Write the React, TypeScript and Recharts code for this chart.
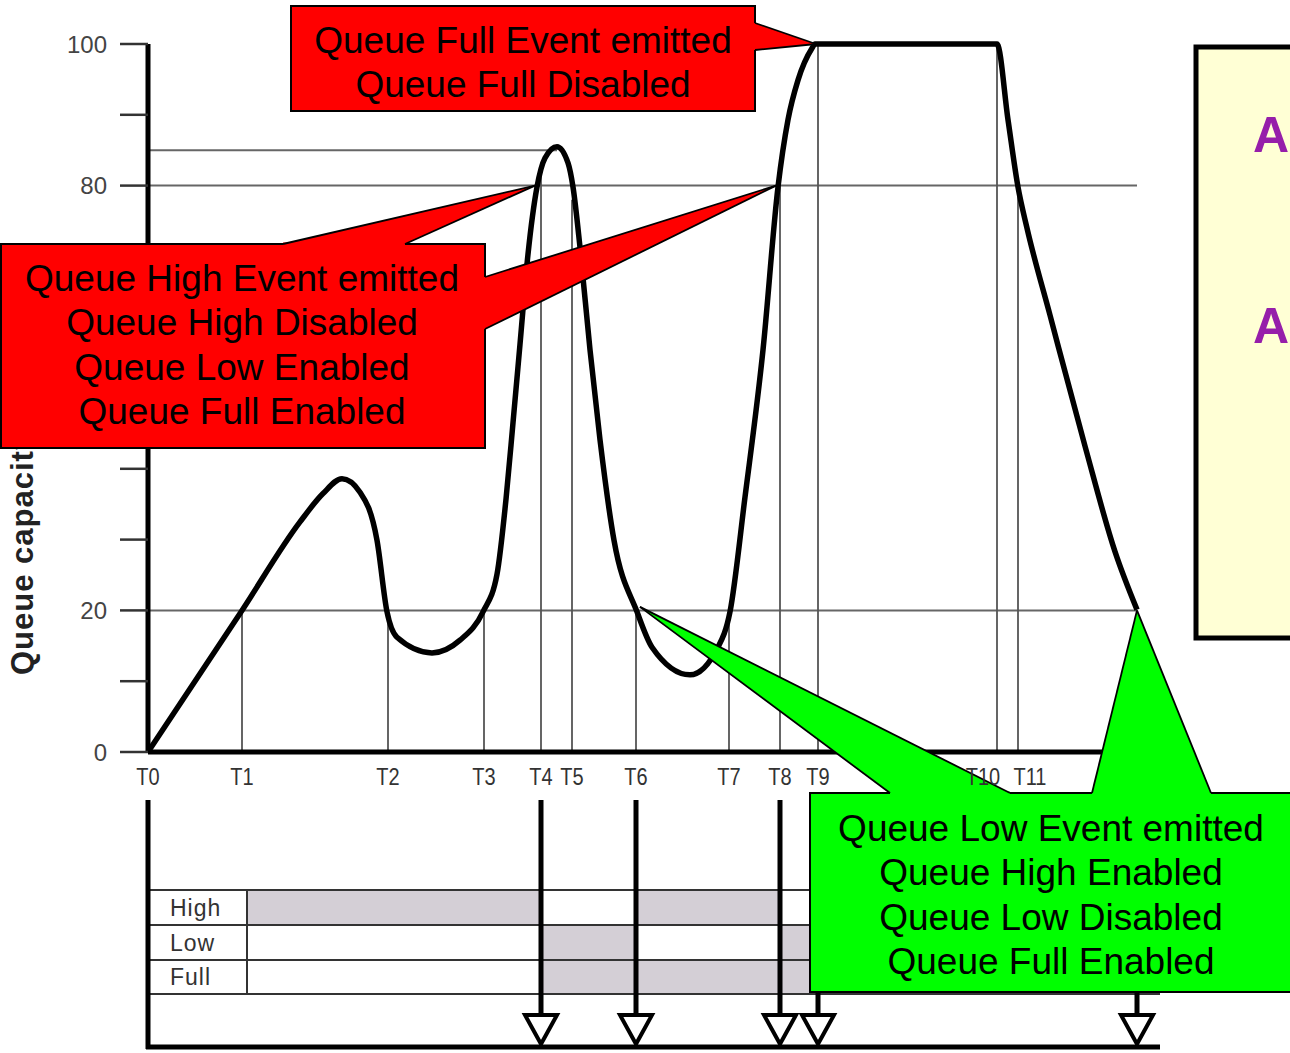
import React from 'react';
import { ComposedChart, Line, XAxis, YAxis, ReferenceLine, ReferenceArea, ReferenceDot } from 'recharts';

const FONT = '"Liberation Sans", Arial, Helvetica, sans-serif';

// time marks on the x axis
const T_LABELS = ['T0', 'T1', 'T2', 'T3', 'T4', 'T5', 'T6', 'T7', 'T8', 'T9', 'T10', 'T11'];
const T_TIMES = [0, 94, 240, 336, 393, 424, 488, 581, 632, 670, 849, 870];
const T_LINE_TOPS = [0, 20, 20, 20, 83, 78, 20, 20, 80, 100, 100, 80];

// queue depth curve (% of capacity)
const CURVE_T = [0, 94, 152, 175, 194, 212, 229, 239, 249, 284, 312, 335, 349, 358, 365, 372, 380, 389, 397, 409, 420, 425, 432, 442, 452, 466, 489, 504, 542, 570, 582, 597, 615, 630, 640, 650, 664, 667, 849, 860, 870, 879, 902, 937, 967, 989];
const CURVE_Q = [0, 20, 32.5, 36.5, 38.6, 36.7, 29.9, 19.8, 16.2, 14.0, 15.8, 19.8, 25.1, 35.7, 46.5, 57.6, 70.3, 79.8, 83.9, 85.5, 83.2, 79.8, 71.3, 56.8, 44.1, 29.9, 19.8, 14.8, 10.9, 14.8, 19.8, 36.0, 56.8, 79.8, 89.3, 94.9, 99.4, 100, 100, 89.3, 79.8, 74.0, 61.7, 43.2, 28.3, 20.1];

const Y_TICKS = [0, 10, 20, 30, 40, 50, 60, 70, 80, 90, 100];
const Y_LABELED = [0, 20, 80, 100];

// threshold guide lines
const GUIDE_LEVELS = [85, 80, 20];
const GUIDE_ENDS = [409, 989, 989];

// moments where an event fires (arrows into the state table)
const EVENT_TIMES = [393, 488, 632, 670, 989];

// enabled periods per threshold
const ROW_NAMES = ['High', 'Low', 'Full'];
const HIGH_ON = [[0, 393], [488, 632]];
const LOW_ON = [[393, 488], [632, 990]];
const FULL_ON = [[393, 670]];
const ROW_PERIODS = [HIGH_ON, LOW_ON, FULL_ON];

// callouts
const FULL_TEXT = ['Queue Full Event emitted', 'Queue Full Disabled'];
const HIGH_TEXT = ['Queue High Event emitted', 'Queue High Disabled', 'Queue Low Enabled', 'Queue Full Enabled'];
const LOW_TEXT = ['Queue Low Event emitted', 'Queue High Enabled', 'Queue Low Disabled', 'Queue Full Enabled'];
const FULL_TIP = { t: 670, q: 100 };
const HIGH_TIPS = [{ t: 387, q: 80 }, { t: 628, q: 80 }];
const LOW_TIPS = [{ t: 492, q: 20.5 }, { t: 989, q: 20 }];

const curveData = CURVE_T.map((t, i) => ({ t, q: CURVE_Q[i] }));

// pixel layout of the lower state table
const TABLE = { left: 148, colEdge: 247, right: 1160, rows: [890, 925, 960, 994], frameTop: 800, bottom: 1047 };
const GAP = 44.3;

type Pt = [number, number];

function Pointer({ tip, base, fill }: { tip: Pt; base: [Pt, Pt]; fill: string }) {
  const [b1, b2] = base;
  return (
    <g>
      <polygon points={`${b1[0]},${b1[1]} ${tip[0]},${tip[1]} ${b2[0]},${b2[1]}`} fill={fill} />
      <line x1={b1[0]} y1={b1[1]} x2={b2[0]} y2={b2[1]} stroke={fill} strokeWidth={3} />
      <line x1={b1[0]} y1={b1[1]} x2={tip[0]} y2={tip[1]} stroke="#000" strokeWidth={1.8} />
      <line x1={b2[0]} y1={b2[1]} x2={tip[0]} y2={tip[1]} stroke="#000" strokeWidth={1.8} />
    </g>
  );
}

function Box({ x, y, w, h, fill, lines, cx, firstY }: any) {
  return (
    <g>
      <rect x={x} y={y} width={w} height={h} fill={fill} stroke="#000" strokeWidth={2} />
      {lines.map((s: string, i: number) => (
        <text key={s + i} x={cx} y={firstY + i * GAP + 13} textAnchor="middle" fontSize={37} fontFamily={FONT} fill="#000">
          {s}
        </text>
      ))}
    </g>
  );
}

const XTick = ({ x, y, payload }: any) => {
  const i = T_TIMES.indexOf(payload.value);
  const label = T_LABELS[i];
  const shift = label === 'T10' ? -14 : label === 'T11' ? 12 : 0;
  return (
    <g transform={`translate(${x + shift},${y})`}>
      <text textAnchor="middle" y={21} transform="scale(1,1.2)" fontSize={20} fill="#333" fontFamily={FONT}>
        {label}
      </text>
    </g>
  );
};

const YTick = ({ x, y, payload }: any) => {
  if (!Y_LABELED.includes(payload.value)) return <g />;
  return (
    <text x={x - 1} y={y} dy="0.36em" textAnchor="end" fontSize={24} fill="#444" fontFamily={FONT}>
      {payload.value}
    </text>
  );
};

export default function App() {
  return (
    <div style={{ width: 1290, height: 1053, background: '#fff' }}>
      <style>{'body{margin:0}'}</style>
      <ComposedChart width={1290} height={1053} data={curveData} margin={{ top: 44, right: 152, bottom: 271, left: 88 }}>
        <XAxis
          dataKey="t"
          type="number"
          domain={[0, 990]}
          ticks={T_TIMES}
          interval={0}
          height={30}
          tickLine={false}
          tick={<XTick />}
          axisLine={{ stroke: '#000', strokeWidth: 5 }}
        />
        <YAxis
          type="number"
          domain={[0, 100]}
          ticks={Y_TICKS}
          interval={0}
          width={60}
          tickSize={28}
          tickMargin={12}
          tick={<YTick />}
          tickLine={{ stroke: '#333', strokeWidth: 2.5 }}
          axisLine={{ stroke: '#000', strokeWidth: 5 }}
        />
        {GUIDE_LEVELS.map((q, i) => (
          <ReferenceLine key={'g' + q} segment={[{ x: 0, y: q }, { x: GUIDE_ENDS[i], y: q }]} stroke="#666" strokeWidth={2} />
        ))}
        {T_TIMES.map((t, i) =>
          i === 0 ? null : (
            <ReferenceLine key={'v' + t} segment={[{ x: t, y: 0 }, { x: t, y: T_LINE_TOPS[i] }]} stroke="#555" strokeWidth={1.8} />
          )
        )}
        <Line type="monotone" dataKey="q" stroke="#000" strokeWidth={5.5} dot={false} isAnimationActive={false} />

        {ROW_PERIODS.map((periods, r) =>
          periods.map(([a, b]) => (
            <ReferenceArea
              key={`r${r}-${a}`}
              x1={a}
              x2={b}
              fill="#d4cfd6"
              shape={(p: any) => {
                const left = Math.max(p.x, TABLE.colEdge);
                return <rect x={left} y={TABLE.rows[r]} width={p.x + p.width - left} height={TABLE.rows[r + 1] - TABLE.rows[r]} fill="#d4cfd6" />;
              }}
            />
          ))
        )}

        {/* state table frame, axis title, side panel */}
        <ReferenceDot
          x={0}
          y={0}
          zIndex={1500}
          shape={(p: any) => (
            <g>
              {TABLE.rows.map((ry) => (
                <line key={ry} x1={p.cx} y1={ry} x2={TABLE.right} y2={ry} stroke="#333" strokeWidth={2} />
              ))}
              <line x1={TABLE.colEdge} y1={TABLE.rows[0]} x2={TABLE.colEdge} y2={TABLE.rows[3]} stroke="#333" strokeWidth={2} />
              {ROW_NAMES.map((n, i) => (
                <text key={n} x={170} y={(TABLE.rows[i] + TABLE.rows[i + 1]) / 2 + 8} fontSize={23} letterSpacing={1} fill="#333" fontFamily={FONT}>
                  {n}
                </text>
              ))}
              <line x1={p.cx} y1={TABLE.frameTop} x2={p.cx} y2={TABLE.bottom + 2} stroke="#000" strokeWidth={5} />
              <line x1={p.cx - 2} y1={TABLE.bottom} x2={TABLE.right} y2={TABLE.bottom} stroke="#000" strokeWidth={5} />
              <text x={33} y={675} transform="rotate(-90 33 675)" fontSize={31} fontWeight="bold" letterSpacing={1} fill="#222" fontFamily={FONT}>
                Queue capacity
              </text>
              <rect x={1196} y={47} width={130} height={591} fill="#ffffd5" stroke="#000" strokeWidth={5} />
              <text x={1253} y={152} fontSize={50} fontWeight="bold" fill="#961eaa" fontFamily={FONT}>A</text>
              <text x={1253} y={343} fontSize={50} fontWeight="bold" fill="#961eaa" fontFamily={FONT}>A</text>
            </g>
          )}
        />

        {EVENT_TIMES.map((t) => (
          <ReferenceDot
            key={'e' + t}
            x={t}
            y={0}
            zIndex={1500}
            shape={(p: any) => (
              <g>
                <line x1={p.cx} y1={TABLE.frameTop} x2={p.cx} y2={1014} stroke="#000" strokeWidth={5} />
                <polygon
                  points={`${p.cx - 16},1015 ${p.cx + 16},1015 ${p.cx},1044`}
                  fill="#fff"
                  stroke="#000"
                  strokeWidth={4}
                />
              </g>
            )}
          />
        ))}

        {/* Full callout */}
        <ReferenceDot
          x={FULL_TIP.t}
          y={FULL_TIP.q}
          zIndex={1600}
          shape={(p: any) => (
            <g>
              <Box x={291} y={6} w={464} h={105} fill="#ff0000" lines={FULL_TEXT} cx={523} firstY={40} />
              <Pointer tip={[p.cx - 2, p.cy]} base={[[755, 23], [755, 50]]} fill="#ff0000" />
            </g>
          )}
        />

        {/* High callout */}
        <ReferenceDot
          x={HIGH_TIPS[0].t}
          y={HIGH_TIPS[0].q}
          zIndex={1600}
          shape={(p: any) => (
            <g>
              <Box x={1} y={244} w={484} h={204} fill="#ff0000" lines={HIGH_TEXT} cx={242} firstY={278} />
              <Pointer tip={[p.cx, p.cy]} base={[[283, 244], [405, 244]]} fill="#ff0000" />
            </g>
          )}
        />
        <ReferenceDot
          x={HIGH_TIPS[1].t}
          y={HIGH_TIPS[1].q}
          zIndex={1600}
          shape={(p: any) => <Pointer tip={[p.cx, p.cy]} base={[[485, 277], [485, 329]]} fill="#ff0000" />}
        />

        {/* Low callout */}
        <ReferenceDot
          x={LOW_TIPS[0].t}
          y={LOW_TIPS[0].q}
          zIndex={1600}
          shape={(p: any) => (
            <g>
              <Box x={810} y={793} w={490} h={199} fill="#00ff00" lines={LOW_TEXT} cx={1051} firstY={828} />
              <Pointer tip={[p.cx, p.cy]} base={[[890, 793], [1010, 793]]} fill="#00ff00" />
            </g>
          )}
        />
        <ReferenceDot
          x={LOW_TIPS[1].t}
          y={LOW_TIPS[1].q}
          zIndex={1600}
          shape={(p: any) => <Pointer tip={[p.cx, p.cy]} base={[[1092, 793], [1211, 793]]} fill="#00ff00" />}
        />
      </ComposedChart>
    </div>
  );
}
